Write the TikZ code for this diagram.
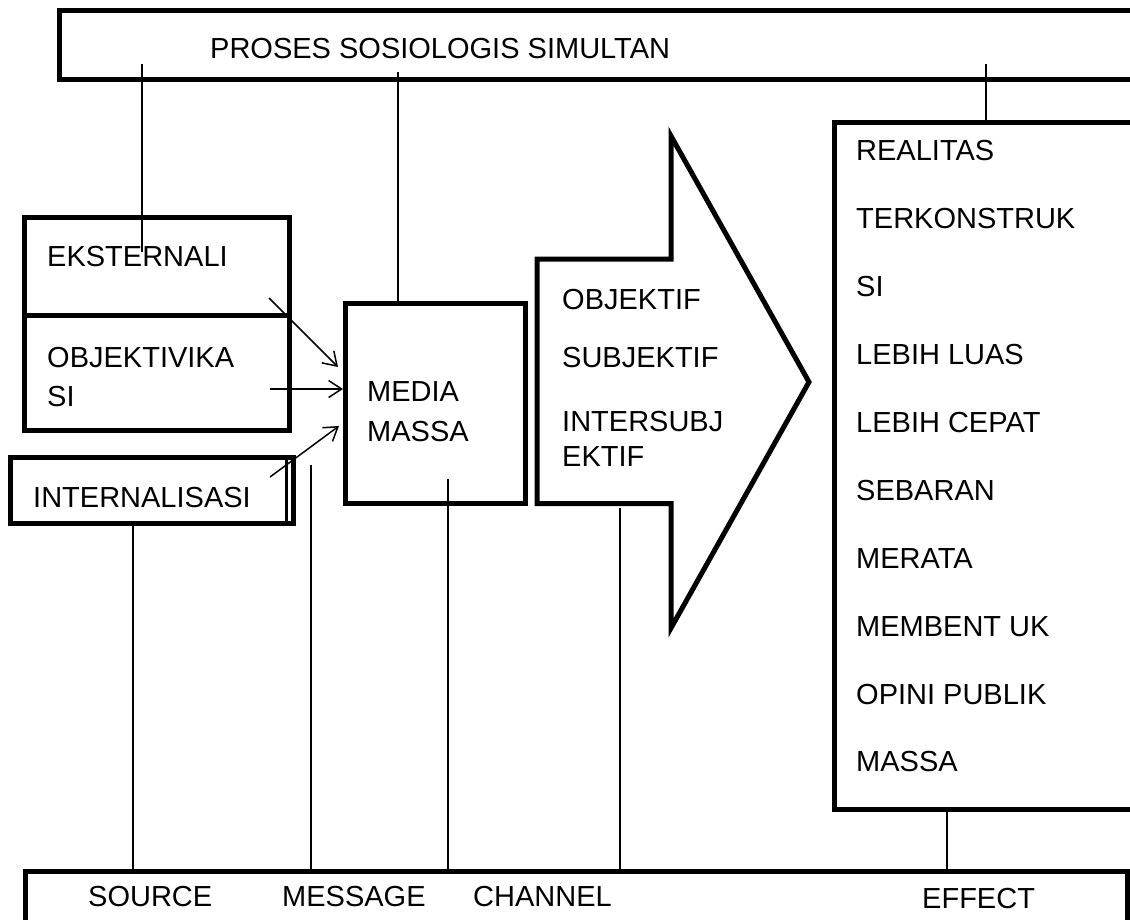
\documentclass[tikz,border=0pt]{standalone}
\usepackage{fontspec}
\setmainfont{Liberation Sans}
\usetikzlibrary{arrows.meta}
\begin{document}
\begin{tikzpicture}[x=1pt,y=-1pt,
  boxstyle/.style={draw, line width=5pt, inner sep=0pt},
  thinline/.style={line width=1.5pt},
  arr/.style={line width=1.5pt, -{Straight Barb[length=13pt,width=17pt,line width=1.5pt]}},
  lbl/.style={font=\fontsize{29}{34}\selectfont, inner sep=0pt, anchor=west}]
\useasboundingbox (0,0) rectangle (1130,919);
\clip (0,0) rectangle (1130,919);
\fill[white] (0,0) rectangle (1130,919);

% boxes
\node[boxstyle, minimum width=1091pt, minimum height=69pt] (top) at (604.5,44.5) {};
\node[boxstyle, minimum width=265pt, minimum height=98pt] (ekst) at (156.5,266) {};
\node[boxstyle, minimum width=265pt, minimum height=115pt] (obj) at (156.5,372.5) {};
\node[boxstyle, minimum width=283pt, minimum height=66pt] (intern) at (151.5,490) {};
\draw[line width=2.5pt] (286.5,457) -- (286.5,523);
\node[boxstyle, minimum width=180pt, minimum height=200pt] (media) at (435,403) {};
\node[boxstyle, minimum width=316pt, minimum height=687pt] (effect) at (992,465.5) {};
\node[boxstyle, minimum width=1102pt, minimum height=79pt] (bottom) at (576,910.5) {};

% big arrow
\draw[line width=5pt, line join=miter] (537,259) -- (671,259) -- (671,136) -- (809,382)
  -- (671,628) -- (671,503.5) -- (537,503.5) -- cycle;

% texts
\node[lbl] (tproses) at (210,49) {PROSES SOSIOLOGIS SIMULTAN};
\node[lbl] (tekst) at (47,257) {EKSTERNALI};
\node[lbl] (tobj1) at (47,358) {OBJEKTIVIKA};
\node[lbl] (tobj2) at (47,397) {SI};
\node[lbl] (tint) at (33,498) {INTERNALISASI};
\node[lbl] (tmed1) at (367,392) {MEDIA};
\node[lbl] (tmed2) at (367,432) {MASSA};
\node[lbl] (ta1) at (562,300) {OBJEKTIF};
\node[lbl] (ta2) at (562,358) {SUBJEKTIF};
\node[lbl] (ta3) at (562,422) {INTERSUBJ};
\node[lbl] (ta4) at (562,457) {EKTIF};
\node[lbl] (e1) at (856,151) {REALITAS};
\node[lbl] (e2) at (856,218.9) {TERKONSTRUK};
\node[lbl] (e3) at (856,286.8) {SI};
\node[lbl] (e4) at (856,354.7) {LEBIH LUAS};
\node[lbl] (e5) at (856,422.6) {LEBIH CEPAT};
\node[lbl] (e6) at (856,490.5) {SEBARAN};
\node[lbl] (e7) at (856,558.4) {MERATA};
\node[lbl] (e8) at (856,626.3) {MEMBENT UK};
\node[lbl] (e9) at (856,694.2) {OPINI PUBLIK};
\node[lbl] (e10) at (856,762) {MASSA};
\node[lbl] (bsrc) at (88,897) {SOURCE};
\node[lbl] (bmsg) at (282,897) {MESSAGE};
\node[lbl] (bchn) at (473,897) {CHANNEL};
\node[lbl] (beff) at (922,899) {EFFECT};

% connector end points
\coordinate (c1a) at (142,64);   \coordinate (c1b) at (142,252);
\coordinate (c2a) at (398,72);
\coordinate (c3a) at (986,64);
\coordinate (c4a) at (133,523);
\coordinate (c5a) at (311,465);
\coordinate (c6a) at (448,479);
\coordinate (c7a) at (620,508);
\coordinate (c8a) at (947,809);

% vertical connectors
\draw[thinline] (c1a) -- (c1b);
\draw[thinline] (c2a) -- (c2a |- media.north);
\draw[thinline] (c3a) -- (c3a |- effect.north);
\draw[thinline] (c4a) -- (c4a |- bottom.north);
\draw[thinline] (c5a) -- (c5a |- bottom.north);
\draw[thinline] (c6a) -- (c6a |- bottom.north);
\draw[thinline] (c7a) -- (c7a |- bottom.north);
\draw[thinline] (c8a) -- (c8a |- bottom.north);

% arrows into media
\coordinate (a1s) at (269,298); \coordinate (a1e) at (338,367);
\coordinate (a2s) at (270,389); \coordinate (a2e) at (343,389);
\coordinate (a3s) at (270,477); \coordinate (a3e) at (339,426);
\draw[arr] (a1s) -- (a1e);
\draw[arr] (a2s) -- (a2e);
\draw[arr] (a3s) -- (a3e);
\end{tikzpicture}
\end{document}
